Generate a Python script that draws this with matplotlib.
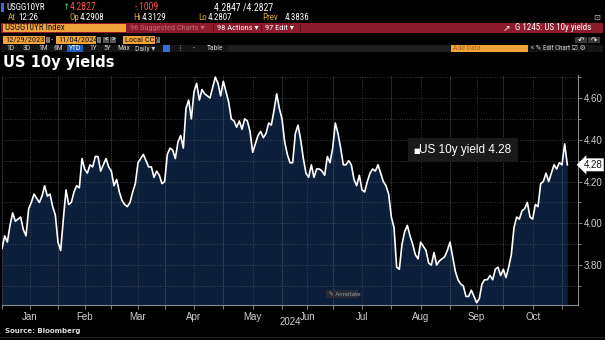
import numpy as np
import pandas as pd
import matplotlib
matplotlib.use('Agg')
import matplotlib.pyplot as plt
from matplotlib.patches import Rectangle
from matplotlib import font_manager

W, H = 605, 340

# US 10y generic yield (USGG10YR), daily close in %, 12/29/2023 - 11/04/2024
dec = [3.88]
jan = [3.94, 3.91, 3.99, 4.05, 4.01, 4.02, 4.03, 3.97, 3.94, 4.07, 4.10,
       4.14, 4.12, 4.10, 4.13, 4.18, 4.13, 4.14, 4.08, 4.04, 3.91]
feb = [3.87, 4.02, 4.16, 4.09, 4.10, 4.15, 4.18, 4.17, 4.31, 4.26, 4.24,
       4.28, 4.27, 4.32, 4.32, 4.25, 4.28, 4.31, 4.27, 4.25]
mar = [4.18, 4.21, 4.15, 4.11, 4.09, 4.08, 4.10, 4.15, 4.19, 4.29, 4.31,
       4.33, 4.30, 4.27, 4.27, 4.22, 4.25, 4.23, 4.19, 4.20]
apr = [4.33, 4.36, 4.35, 4.31, 4.39, 4.42, 4.36, 4.55, 4.59, 4.50, 4.63,
       4.67, 4.59, 4.64, 4.62, 4.61, 4.60, 4.65, 4.70, 4.67, 4.61, 4.68]
may = [4.63, 4.58, 4.50, 4.49, 4.46, 4.49, 4.45, 4.50, 4.49, 4.44, 4.34,
       4.38, 4.42, 4.44, 4.41, 4.43, 4.48, 4.47, 4.54, 4.62, 4.55, 4.50]
jun = [4.39, 4.33, 4.29, 4.29, 4.43, 4.47, 4.40, 4.31, 4.24, 4.22, 4.28,
       4.22, 4.26, 4.26, 4.25, 4.23, 4.32, 4.29, 4.36]
jul = [4.48, 4.43, 4.36, 4.28, 4.28, 4.30, 4.28, 4.21, 4.18, 4.23, 4.16,
       4.15, 4.20, 4.24, 4.26, 4.25, 4.28, 4.24, 4.20, 4.18, 4.14, 4.03]
aug = [3.98, 3.79, 3.78, 3.90, 3.96, 3.99, 3.94, 3.90, 3.85, 3.83, 3.91,
       3.89, 3.87, 3.81, 3.80, 3.86, 3.80, 3.82, 3.83, 3.84, 3.87, 3.91]
sep = [3.84, 3.77, 3.73, 3.71, 3.70, 3.65, 3.65, 3.68, 3.65, 3.62, 3.64,
       3.71, 3.73, 3.73, 3.75, 3.73, 3.78, 3.79, 3.75, 3.78]
octo = [3.74, 3.79, 3.85, 3.98, 4.03, 4.02, 4.06, 4.07, 4.10, 4.03, 4.02,
        4.09, 4.08, 4.19, 4.20, 4.24, 4.20, 4.24, 4.28, 4.26, 4.29, 4.28]
nov = [4.38, 4.28]

holidays = ['2024-01-01', '2024-01-15', '2024-02-19', '2024-03-29', '2024-05-27',
            '2024-06-19', '2024-07-04', '2024-09-02', '2024-10-14']
month_labels = ['Jan', 'Feb', 'Mar', 'Apr', 'May', 'Jun', 'Jul', 'Aug', 'Sep', 'Oct']
y_ticks = [3.80, 4.00, 4.20, 4.40, 4.60]
last_value = 4.28

yields = np.array(dec + jan + feb + mar + apr + may + jun + jul + aug + sep + octo + nov)
dates = pd.bdate_range('2023-12-29', '2024-11-04', freq='C', holidays=holidays)
assert len(dates) == len(yields)
x = np.arange(len(yields))   # Bloomberg plots on a trading-day axis

# month boundaries sit on the last trading day of the previous month
first_idx = [int(np.argmax((dates.month == m) & (dates.year == 2024))) for m in range(1, 12)]
bounds = [i - 1 for i in first_idx]
mids = [(a + b) / 2 for a, b in zip(bounds[:-1], bounds[1:])]


def pick_font(names):
    for n in names:
        try:
            font_manager.findfont(n, fallback_to_default=False)
            return n
        except Exception:
            pass
    return 'DejaVu Sans'


# terminal look: narrow face if one is around
hdr = pick_font(['Roboto Condensed', 'Liberation Sans Narrow', 'Liberation Sans'])
hdr_font = [hdr, 'DejaVu Sans']
plt.rcParams['font.family'] = ['Liberation Sans', 'DejaVu Sans']

BG = '#000000'
NAVY = '#0b1f3b'
ORANGE = '#f2a33a'
TAN = '#d9a441'
GRID = '#4a4f58'

fig = plt.figure(figsize=(W / 100, H / 100), dpi=100, facecolor=BG)


def box(x0, y0, x1, y1, color, z=0):
    fig.patches.append(Rectangle((x0 / W, 1 - y1 / H), (x1 - x0) / W, (y1 - y0) / H,
                                 transform=fig.transFigure, facecolor=color,
                                 edgecolor='none', zorder=z))


def txt(xp, yp, s, color='white', size=6.5, ha='left', fam=None, **kw):
    fig.text(xp / W, 1 - yp / H, s, color=color, fontsize=size, ha=ha, va='center',
             family=fam or hdr_font, **kw)


# ---- header rows ----
box(1, 3, 4, 12, '#2f6fe0')
txt(6, 7.5, 'USGG10YR', size=6.5)
txt(62, 7.5, '↑', color='#3fd05a', size=6.5, fam=['DejaVu Sans'])
txt(70, 7.5, '4.2827', color='#ff4a4a', size=7)
txt(135, 7.5, '-.1009', color='#ff4a4a', size=7)
txt(214, 7.5, '4.2847 /4.2827', size=7)

for lx, lab, vx, val in [(8, 'At', 18, '12:26'), (69, 'Op', 80, '4.2908'),
                         (133, 'Hi', 142, '4.3129'), (198, 'Lo', 208, '4.2807'),
                         (262, 'Prev', 285, '4.3836')]:
    txt(lx, 17.5, lab, color=TAN, size=6.5)
    txt(vx, 17.5, val, size=6.5)
txt(597, 17.5, '⊡', color='#bbbbbb', size=6, ha='center', fam=['DejaVu Sans'])

box(1, 23, 603, 33, '#8c1b2c')
box(3, 24, 126, 32, ORANGE, 1)
txt(5, 28, 'USGG10YR Index', color='#111111', size=6.5)
txt(130, 28, '96 Suggested Charts ▾', color='#c06a78', size=6)
txt(217, 28, '98 Actions ▾', size=6)
txt(265, 28, '97 Edit ▾', size=6)
for sx in [213, 261, 300]:
    box(sx, 24, sx + 0.8, 32, '#5a0f1a', 1)
txt(503, 28, '↗', size=6.5, fam=['DejaVu Sans'])
txt(515, 28, 'G 1245: US 10y yields', size=6.5)

for x0, x1, s in [(3, 45, '12/29/2023'), (56, 96, '11/04/2024'), (123, 155, 'Local CCY')]:
    box(x0, 36, x1, 44, ORANGE, 1)
    txt(x0 + 2, 40, s, color='#111111', size=6)
for x0 in [46, 97, 156]:
    box(x0, 37, x0 + 4, 43, '#777777', 1)
txt(51, 40, '-', size=6)
box(103, 37, 109, 43, '#555555', 1)
box(110, 37, 116, 43, '#555555', 1)
txt(106, 40, '<', size=5.5, ha='center')
txt(113, 40, '>', size=5.5, ha='center')
box(575, 37, 587, 43, '#3a3a3a', 1)
box(588, 37, 600, 43, '#3a3a3a', 1)
txt(581, 40, '↶', size=5.5, ha='center', fam=['DejaVu Sans'])
txt(594, 40, '↷', size=5.5, ha='center', fam=['DejaVu Sans'])

box(1, 45, 603, 52, '#141414')
for bx, s in [(6, '1D'), (23, '3D'), (38, '1M'), (54, '6M'), (89, '1Y'),
              (103, '5Y'), (117, 'Max'), (135, 'Daily ▾'), (207, 'Table')]:
    txt(bx, 48.5, s, color='#cfcfcf', size=5.5)
box(67, 45.5, 83, 51.5, '#1f5fbf', 1)
txt(75, 48.5, 'YTD', size=5.5, ha='center')
box(163, 45.5, 170, 51.5, '#2f6fe0', 1)
txt(178, 48.5, '⁞', color='#cfcfcf', size=5.5, fam=['DejaVu Sans'])
txt(193, 48.5, '•', color='#cfcfcf', size=4)
box(228, 45.5, 451, 51.5, '#1e1e1e', 1)
box(451, 45.5, 528, 51.5, ORANGE, 1)
txt(453, 48.5, 'Add Data', color='#a86a1a', size=5.5)
txt(531, 48.5, '« ✎ Edit Chart ☑ ⚙', color='#cfcfcf', size=5, fam=[hdr, 'DejaVu Sans'])

# ---- title ----
fig.text(3 / W, 1 - 63 / H, 'US 10y yields', color='white', fontsize=10.5,
         fontweight='bold', va='center', family=['DejaVu Sans'])

# ---- chart ----
ax = fig.add_axes([2 / W, 1 - 305 / H, 576 / W, 230 / H])
ax.set_facecolor(BG)
ax.set_xlim(0, 216)
ax.set_ylim(3.609, 4.710)

ax.fill_between(x, yields, 3.5, color=NAVY, lw=0, zorder=1)
ax.plot(x, yields, color='white', lw=1.2, zorder=4, solid_joinstyle='round')

for v in np.arange(3.7, 4.71, 0.1):
    ax.axhline(v, color=GRID, lw=0.6, ls=(0, (1, 2)), zorder=2)
for b in bounds:
    ax.axvline(b, color='#555c68', lw=0.6, ls=(0, (1, 1)), zorder=2)
for m in mids:
    ax.axvline(m, color=GRID, lw=0.6, ls=(0, (1, 2)), zorder=2)

for s in ['top', 'left']:
    ax.spines[s].set_visible(False)
ax.spines['right'].set_color('#8a8a8a')
ax.spines['bottom'].set_color('#8a8a8a')
ax.spines['right'].set_linewidth(0.8)
ax.spines['bottom'].set_linewidth(0.8)

ax.yaxis.tick_right()
ax.set_yticks(y_ticks)
ax.set_yticklabels([f'{v:.2f}' for v in y_ticks])
ax.set_yticks(np.arange(3.7, 4.71, 0.1), minor=True)
ax.tick_params(axis='y', which='both', colors='#9a9a9a', labelcolor='#d0d0d0',
               labelsize=7, length=3, width=0.6, pad=1)
ax.tick_params(axis='y', which='minor', length=2)

ax.set_xticks(mids)
ax.set_xticklabels(month_labels)
ax.set_xticks(bounds, minor=True)
ax.tick_params(axis='x', which='both', colors='#9a9a9a', labelcolor='#d0d0d0',
               labelsize=7, length=3, width=0.6, pad=2)

# current value tag
ax.annotate(f'{last_value:.2f}', xy=(1.0, last_value), xycoords=('axes fraction', 'data'),
            xytext=(4, 0), textcoords='offset points', ha='left', va='center',
            fontsize=7, color='#111111', annotation_clip=False,
            bbox=dict(boxstyle='larrow,pad=0.15', fc='white', ec='none'))

# legend box
box(408, 138, 518, 162, '#1a1a1a', 5)
txt(413, 150.5, '■', size=5, fam=['DejaVu Sans'], zorder=6)
txt(419, 150, f'US 10y yield {last_value:.2f}', size=8.5, fam=['Liberation Sans', 'DejaVu Sans'], zorder=6)

# annotate button
box(326, 290, 358, 298, '#262b36', 5)
txt(329, 294, '✎ Annotate', color='#9aa0aa', size=4, fam=['DejaVu Sans'], zorder=6)

txt(290, 322, '2024', color='#d0d0d0', size=7, ha='center', fam=['Liberation Sans', 'DejaVu Sans'])
txt(5, 331.5, 'Source: Bloomberg', color='#e0e0e0', size=5, fontweight='bold',
    fam=['DejaVu Sans'])
box(0, 336.5, 605, 337.5, '#262626')

fig.savefig('out.png', dpi=100, facecolor=BG)
